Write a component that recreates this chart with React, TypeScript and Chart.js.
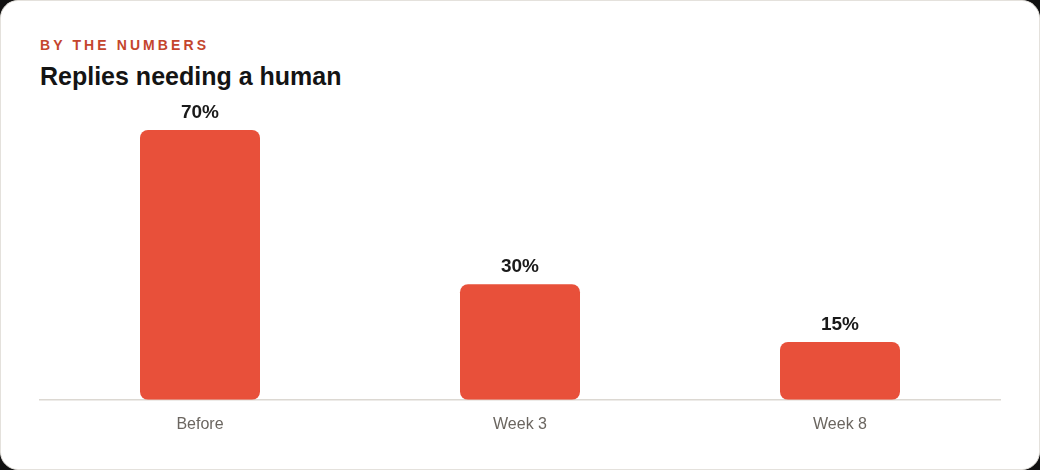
import React, { useEffect, useRef } from "react";
import { Chart, registerables } from "chart.js";

Chart.register(...registerables);

const categories = ["Before", "Week 3", "Week 8"];
const values = [70, 30, 15];
const valueLabels = ["70%", "30%", "15%"];

const FONT = "'Liberation Sans', Arial, Helvetica, sans-serif";
const BAR = "#e8503a";

const labelPlugin = {
  id: "valueLabels",
  afterDatasetsDraw(chart: any) {
    const ctx = chart.ctx;
    const meta = chart.getDatasetMeta(0);
    ctx.save();
    ctx.font = `bold 19px ${FONT}`;
    ctx.fillStyle = "#1a1a1a";
    ctx.textAlign = "center";
    ctx.textBaseline = "bottom";
    meta.data.forEach((el: any, i: number) => {
      ctx.fillText(valueLabels[i], el.x, el.y - 8);
    });
    ctx.restore();
  },
};

export default function App() {
  const ref = useRef<HTMLCanvasElement | null>(null);
  useEffect(() => {
    document.body.style.margin = "0";
    document.body.style.background = "#111";
    const chart = new Chart(ref.current as HTMLCanvasElement, {
      type: "bar",
      data: {
        labels: categories,
        datasets: [
          {
            data: values,
            backgroundColor: BAR,
            borderRadius: 8,
            borderSkipped: false,
            barPercentage: 0.75,
            categoryPercentage: 0.5,
          },
        ],
      },
      options: {
        animation: false,
        responsive: false,
        maintainAspectRatio: false,
        layout: { padding: { top: 130, left: 40, right: 40, bottom: 21 } },
        plugins: { legend: { display: false }, tooltip: { enabled: false } },
        scales: {
          x: {
            grid: { display: false, drawTicks: false },
            border: { display: true, color: "#dcd8d2", width: 1.5 },
            ticks: { color: "#6b6660", font: { family: FONT, size: 16 }, padding: 15 },
          },
          y: {
            display: false,
            min: 0,
            max: 70,
          },
        },
      },
      plugins: [labelPlugin],
    });
    return () => chart.destroy();
  }, []);
  return (
    <div style={{ width: 1040, height: 470, background: "#111", position: "relative" }}>
      <div
        style={{
          position: "absolute",
          inset: 0,
          background: "#ffffff",
          borderRadius: 18,
          border: "1px solid #e4e1dc",
          boxSizing: "border-box",
          overflow: "hidden",
        }}
      >
        <div
          style={{
            position: "absolute",
            left: 39,
            top: 36,
            fontFamily: FONT,
            fontWeight: 700,
            fontSize: 14,
            letterSpacing: 3.1,
            color: "#c4452d",
            lineHeight: "16px",
          }}
        >
          BY THE NUMBERS
        </div>
        <div
          style={{
            position: "absolute",
            left: 39,
            top: 60,
            fontFamily: FONT,
            fontWeight: 700,
            fontSize: 25,
            color: "#141414",
            lineHeight: "30px",
          }}
        >
          Replies needing a human
        </div>
        <canvas
          ref={ref}
          width={1040}
          height={470}
          style={{ position: "absolute", left: -1, top: -1, width: 1040, height: 470 }}
        />
      </div>
    </div>
  );
}
